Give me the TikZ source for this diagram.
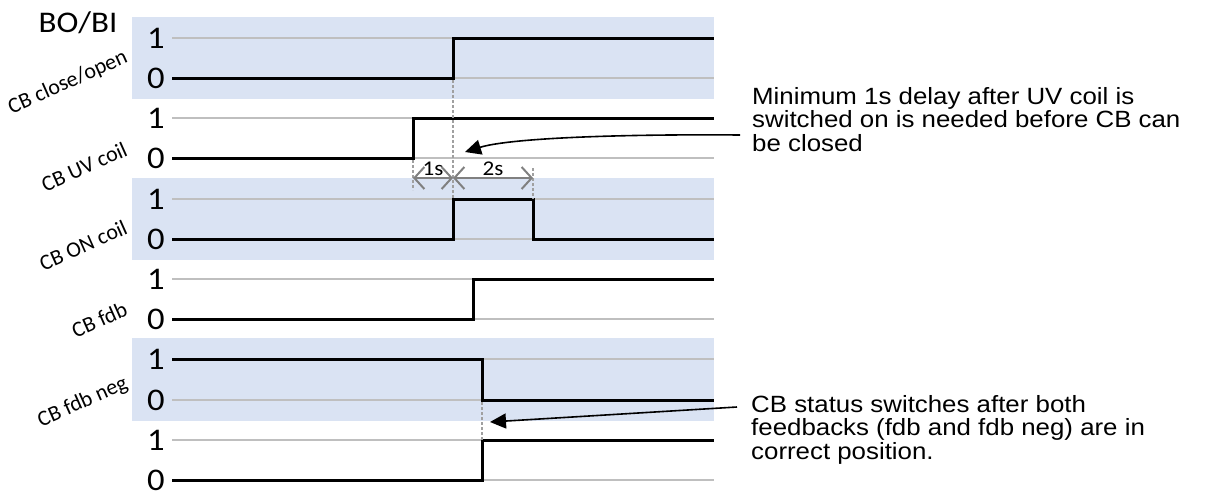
\documentclass[tikz,border=0pt]{standalone}
\usepackage{fontspec}
\usepackage{graphicx}
\setmainfont{Carlito}
\newfontfamily\arialfont{Liberation Sans}
\usetikzlibrary{arrows.meta}
\definecolor{bandblue}{HTML}{DAE3F3}
\definecolor{guidegray}{HTML}{BFBFBF}
\definecolor{dimgray}{HTML}{808080}
\definecolor{dashgray}{HTML}{A0A0A0}
\begin{document}
\begin{tikzpicture}[x=1pt,y=-1pt,
  band/.style={fill=bandblue, draw=none},
  guideline/.style={draw=guidegray, line width=1.8pt},
  sig/.style={draw=black, line width=3pt, line join=miter},
  lvl/.style={font=\fontsize{31.5}{31.5}\selectfont, inner sep=0pt, anchor=base},
  hdrtext/.style={font=\fontsize{30}{30}\selectfont, inner sep=0pt, anchor=base},
  rowlabel/.style={font=\fontsize{22}{22}\selectfont, inner sep=0pt, anchor=base east, rotate=24},
  dimtext/.style={font=\fontsize{21}{21}\selectfont, inner sep=0pt, anchor=base},
  dimline/.style={draw=dimgray, line width=2pt, {Straight Barb[length=10pt,width=22pt]}-{Straight Barb[length=10pt,width=22pt]}},
  helper/.style={draw=dashgray, line width=1.5pt, dash pattern=on 3pt off 2pt},
  calloutarrow/.style={draw=black, line width=1.6pt, -{Triangle[length=16pt,width=15pt]}},
  note/.style={font=\arialfont\fontsize{23.5}{23.5}\selectfont, inner sep=0pt, anchor=base west},
]
\useasboundingbox (0,0) rectangle (1208,496);
% bands
\path[band] (132,17) rectangle (714,99);
\path[band] (132,178) rectangle (714,260);
\path[band] (132,338) rectangle (714,421);
% guides
\foreach \yy in {38,78,118,158,199,239,279,319,359,400,440,480}
  \draw[guideline] (172,\yy) -- (714,\yy);
% signals
\draw[sig] (172,78) -- (453,78) -- (453,38) -- (714,38);
\draw[sig] (172,158) -- (413,158) -- (413,118) -- (714,118);
\draw[sig] (172,239) -- (453,239) -- (453,199) -- (533,199) -- (533,239) -- (714,239);
\draw[sig] (172,319) -- (473,319) -- (473,279) -- (714,279);
\draw[sig] (172,359) -- (482,359) -- (482,400) -- (714,400);
\draw[sig] (172,480) -- (482,480) -- (482,440) -- (714,440);
% helper dashed lines
\draw[helper] (413,160) -- (413,190);
\draw[helper] (453,80) -- (453,199);
\draw[helper] (533,168) -- (533,199);
\draw[helper] (482,402) -- (482,440);
% dimensions
\coordinate (t0) at (413,178);
\coordinate (t1) at (453,178);
\coordinate (t2) at (533,178);
\draw[dimline] (t0) -- (t1);
\draw[dimline] (t1) -- (t2);
\node[dimtext] (d1) at (433,175) {\scalebox{1.1}[1]{1s}};
\node[dimtext] (d2) at (493,175) {\scalebox{1.1}[1]{2s}};
% level digits
\foreach \yy/\dd/\nm in {38/1/a1,78/0/a0,118/1/b1,158/0/b0,199/1/c1,239/0/c0,279/1/e1,319/0/e0,359/1/f1,400/0/f0,440/1/g1,480/0/g0}
  \node[lvl] (lv\nm) at (156,\yy+10) {\scalebox{1.1}[1]{\dd}};
% header and row labels
\node[hdrtext] (hdr) at (78,32) {\scalebox{1.1}[1]{BO/BI}};
\node[rowlabel] (r1) at (129,62) {CB close/open};
\node[rowlabel] (r2) at (129,155) {CB UV coil};
\node[rowlabel] (r3) at (129,233) {CB ON coil};
\node[rowlabel] (r4) at (129,315) {CB fdb};
\node[rowlabel] (r5) at (129,388) {CB fdb neg};
% notes
\node[note] (n1) at (752,104) {\scalebox{1.1}[1]{\vtop{\baselineskip=23.5pt\lineskiplimit=-50pt
  \hbox{Minimum 1s delay after UV coil is}\hbox{switched on is needed before CB can}\hbox{be closed}}}};
\node[note] (n2) at (751,412) {\scalebox{1.1}[1]{\vtop{\baselineskip=23.5pt\lineskiplimit=-50pt
  \hbox{CB status switches after both}\hbox{feedbacks (fdb and fdb neg) are in}\hbox{correct position.}}}};
% callout arrows
\coordinate (c1s) at (740,135);
\coordinate (c1e) at (465,152);
\coordinate (c2s) at (737,407);
\coordinate (c2e) at (490,422);
\draw[calloutarrow] (c1s) .. controls (620,134) and (510,138) .. (c1e);
\draw[calloutarrow] (c2s) -- (c2e);
\end{tikzpicture}
\end{document}
